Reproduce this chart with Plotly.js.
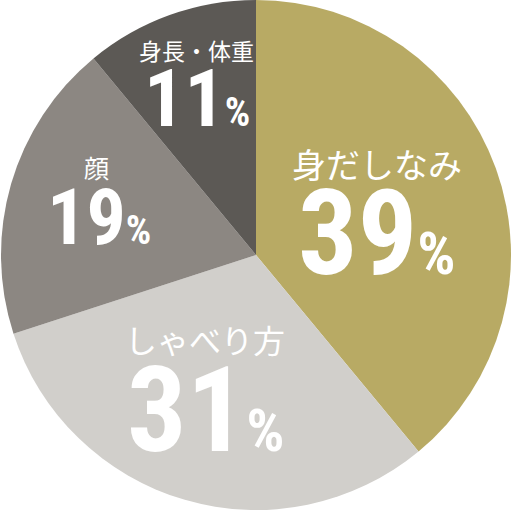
<!DOCTYPE html>
<html><head><meta charset="utf-8">
<script src="https://cdn.plot.ly/plotly-3.0.1.min.js"></script>
<style>html,body{margin:0;padding:0;background:#fff;}#chart{width:512px;height:510px;}</style>
</head><body><div id="chart"></div>
<script>
var labels = ['身だしなみ', 'しゃべり方', '顔', '身長・体重'];
var values = [39, 31, 19, 11];
var colors = ['#b8aa64', '#d1cfcb', '#8c8782', '#5c5955'];

// label placement (pixel centres) and sizes: [labelX, labelY, labelSize, numX, numY, numSize, pctSize]
var place = [
  [377, 164, 34, 377, 234, 118, 60],
  [205, 339, 32, 206, 411, 118, 60],
  [96, 167, 25, 99, 217, 78, 40],
  [196, 50, 23, 197, 99, 80, 40]
];
var W = 512, H = 510;
function px(x){return x / W;}
function py(y){return 1 - y / H;}

var annotations = [];
labels.forEach(function(lab, i){
  var p = place[i];
  annotations.push({
    text: lab, x: px(p[0]), y: py(p[1]), xref: 'paper', yref: 'paper',
    xanchor: 'center', yanchor: 'middle', showarrow: false,
    font: {family: 'Noto Sans CJK JP', size: p[2], color: '#ffffff'}
  });
  annotations.push({
    text: '<b>' + values[i] + '<span style="font-size:' + p[6] + 'px">%</span></b>',
    x: px(p[3]), y: py(p[4]), xref: 'paper', yref: 'paper',
    xanchor: 'center', yanchor: 'middle', showarrow: false,
    font: {family: 'Roboto Condensed', size: p[5], color: '#ffffff'}
  });
});

var data = [{
  type: 'pie', labels: labels, values: values, sort: false,
  direction: 'clockwise', rotation: 0,
  marker: {colors: colors, line: {width: 0}},
  textinfo: 'none', hoverinfo: 'none', showlegend: false,
  domain: {x: [0, 1], y: [0, 1]}
}];
var layout = {
  width: W, height: H, margin: {l: 0, r: 0, t: 0, b: 0},
  paper_bgcolor: '#ffffff', plot_bgcolor: '#ffffff',
  showlegend: false, annotations: annotations
};
Plotly.newPlot('chart', data, layout, {displayModeBar: false, staticPlot: true});
</script></body></html>
